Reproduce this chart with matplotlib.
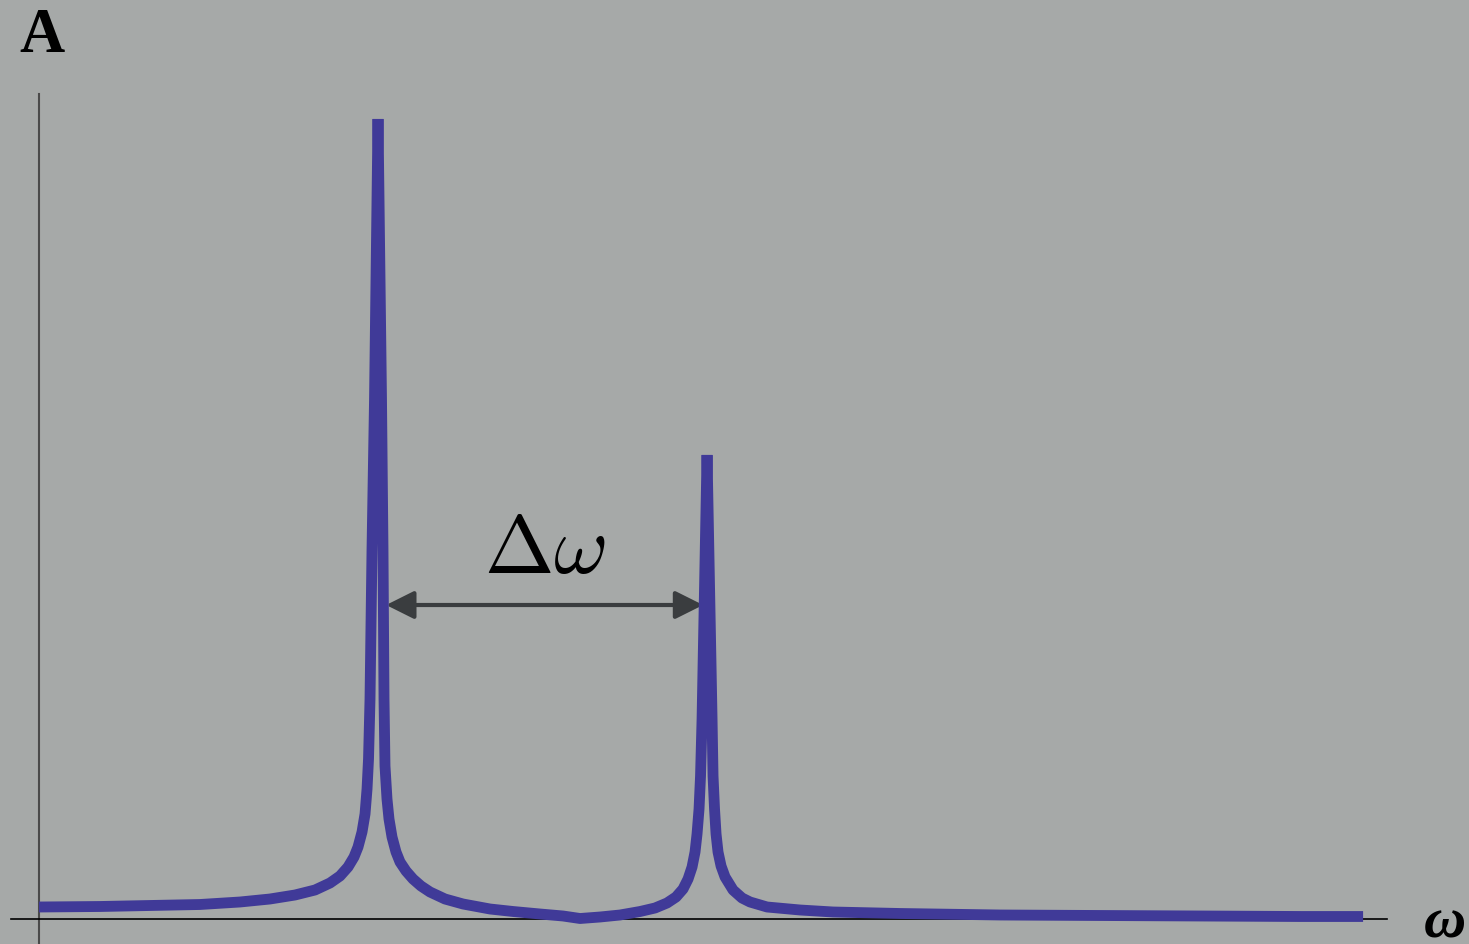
import matplotlib
matplotlib.use("Agg")
import matplotlib.pyplot as plt
from matplotlib.patches import FancyArrowPatch

# amplitude response (omega, A)
omega = [0.0, 0.1799, 0.3274, 0.4749, 0.5929, 0.6814, 0.7552, 0.8142, 0.8584, 0.8879,
         0.9115, 0.9292, 0.9410, 0.9528, 0.9617, 0.9676, 0.9720, 0.9764, 0.9823, 0.9897,
         1.0,
         1.0103, 1.0147, 1.0177, 1.0206, 1.0265, 1.0324, 1.0413, 1.0531, 1.0649, 1.0826,
         1.1032, 1.1268, 1.1534, 1.1976, 1.2507, 1.3304, 1.3982, 1.4779, 1.5457, 1.5959,
         1.6549, 1.7139, 1.7729, 1.8171, 1.8525, 1.8791, 1.8997, 1.9145, 1.9263, 1.9351,
         1.9410, 1.9469, 1.9513, 1.9558,
         1.9705,
         1.9853, 1.9882, 1.9926, 1.9971, 2.0029, 2.0118, 2.0236, 2.0472, 2.0737, 2.0973,
         2.1475, 2.2448, 2.3422, 2.5398, 2.8348, 3.1298, 3.4248, 3.7198, 3.9056]
amp = [0.12, 0.125, 0.135, 0.145, 0.17, 0.20, 0.24, 0.29, 0.36, 0.43,
       0.52, 0.62, 0.72, 0.87, 1.05, 1.30, 1.60, 2.20, 3.70, 5.20,
       8.0,
       5.20, 3.70, 2.20, 1.53, 1.20, 1.00, 0.82, 0.67, 0.57, 0.48,
       0.40, 0.33, 0.27, 0.20, 0.15, 0.10, 0.075, 0.05, 0.03, 0.005,
       0.02, 0.04, 0.075, 0.11, 0.16, 0.22, 0.30, 0.40, 0.52, 0.67,
       0.85, 1.10, 1.43, 2.00,
       4.64,
       2.00, 1.43, 1.10, 0.85, 0.67, 0.53, 0.42, 0.29, 0.21, 0.17,
       0.12, 0.09, 0.07, 0.055, 0.04, 0.035, 0.03, 0.025, 0.025]

# peak positions marked by the double arrow
arrow_from = 1.024
arrow_to = 1.959
arrow_level = 3.14

bg = "#a6a9a8"
fig = plt.figure(figsize=(14.69, 9.45), dpi=100, facecolor=bg)
ax = fig.add_axes([0, 0, 1, 1])
ax.set_facecolor(bg)
ax.set_xlim(-0.115, 4.218)
ax.set_ylim(-0.25, 9.20)
ax.axis("off")

# axes lines
ax.plot([0, 0], [-0.25, 8.25], color="#4a4a4a", lw=1.5)
ax.plot([-0.083, 3.976], [0, 0], color="black", lw=1.2)

# response curve
ax.plot(omega, amp, color="#403a98", lw=7.8, solid_joinstyle="bevel",
        solid_capstyle="butt")

# delta omega arrow
arr = FancyArrowPatch((arrow_from, arrow_level), (arrow_to, arrow_level),
                      arrowstyle="<|-|>,head_length=1.0,head_width=0.5",
                      mutation_scale=17, color="#3a3d3f", lw=3,
                      shrinkA=0, shrinkB=0)
ax.add_patch(arr)

plt.rcParams["mathtext.fontset"] = "cm"
ax.text((arrow_from + arrow_to) / 2, arrow_level + 0.16, r"$\Delta\omega$",
        fontsize=60, ha="center", va="bottom", color="black")

# axis labels
ax.text(-0.058, 8.68, "A", fontsize=45, fontweight="bold",
        family="Liberation Serif", ha="left", va="baseline")
ax.text(4.086, -0.18, "ω", fontsize=42, fontweight="bold", style="italic",
        family="Liberation Serif", ha="left", va="baseline")

fig.savefig("out.png", dpi=100, facecolor=bg)
